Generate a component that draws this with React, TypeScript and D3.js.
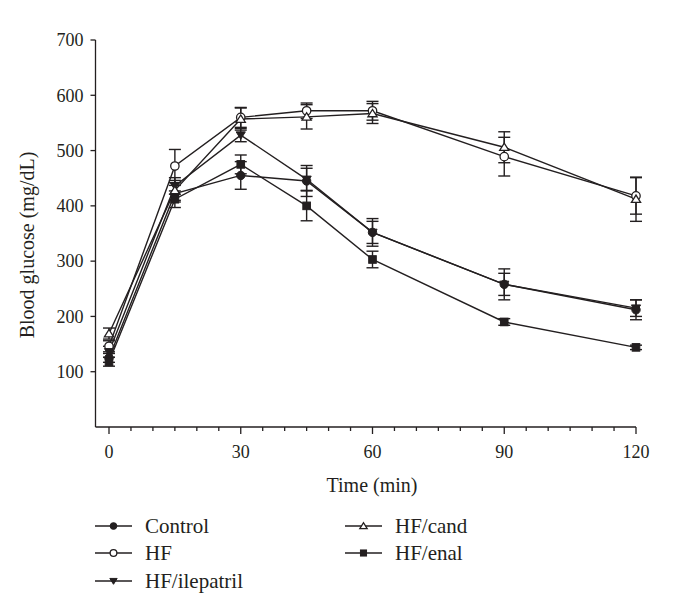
import React from "react";
import * as d3 from "d3";

const times = [0, 15, 30, 45, 60, 90, 120];
const seriesNames = ["Control", "HF", "HF/ilepatril", "HF/cand", "HF/enal"];
const controlVals = [125, 422, 455, 445, 352, 258, 212];
const controlErr = [8, 15, 25, 28, 25, 28, 18];
const hfVals = [146, 472, 560, 572, 572, 489, 418];
const hfErr = [10, 30, 18, 14, 17, 35, 33];
const ilepatrilVals = [136, 436, 528, 448, 352, 258, 215];
const ilepatrilErr = [10, 15, 12, 20, 20, 20, 15];
const candVals = [169, 428, 557, 561, 567, 506, 412];
const candErr = [10, 18, 20, 22, 18, 28, 40];
const enalVals = [118, 412, 475, 400, 303, 190, 144];
const enalErr = [8, 15, 17, 27, 15, 6, 4];
const yTicks = [100, 200, 300, 400, 500, 600, 700];
const xMajorTicks = [0, 30, 60, 90, 120];
const xMinorTicks = d3.range(0, 121, 5);

type Marker = "filledCircle" | "openCircle" | "filledDown" | "openUp" | "filledSquare";
const markers: Marker[] = ["filledCircle", "openCircle", "filledDown", "openUp", "filledSquare"];
const allVals = [controlVals, hfVals, ilepatrilVals, candVals, enalVals];
const allErr = [controlErr, hfErr, ilepatrilErr, candErr, enalErr];

const INK = "#231f20";
const FONT = "'Liberation Serif', 'Times New Roman', serif";

function MarkerShape({ type, x, y, s = 1 }: { type: Marker; x: number; y: number; s?: number }) {
  switch (type) {
    case "filledCircle":
      return <circle cx={x} cy={y} r={4.2 * s} fill={INK} stroke={INK} strokeWidth={1} />;
    case "openCircle":
      return <circle cx={x} cy={y} r={4.2 * s} fill="#fff" stroke={INK} strokeWidth={1.3} />;
    case "filledDown": {
      const h = 4.6 * s;
      return (
        <path
          d={`M${x - h},${y - h * 0.7} L${x + h},${y - h * 0.7} L${x},${y + h * 0.9} Z`}
          fill={INK}
          stroke={INK}
          strokeWidth={1}
        />
      );
    }
    case "openUp": {
      const h = 4.6 * s;
      return (
        <path
          d={`M${x - h},${y + h * 0.7} L${x + h},${y + h * 0.7} L${x},${y - h * 0.9} Z`}
          fill="#fff"
          stroke={INK}
          strokeWidth={1.3}
        />
      );
    }
    case "filledSquare": {
      const h = 3.8 * s;
      return <rect x={x - h} y={y - h} width={2 * h} height={2 * h} fill={INK} stroke={INK} strokeWidth={1} />;
    }
  }
}

export default function App() {
  const W = 694;
  const H = 605;
  const x = d3.scaleLinear().domain([0, 120]).range([109, 636]);
  const y = d3.scaleLinear().domain([0, 700]).range([427, 40]);
  const axisX = 95.5;
  const line = d3
    .line<number>()
    .x((_, i) => x(times[i]))
    .y((v) => y(v));

  const legendItems = [
    { col: 0, row: 0 },
    { col: 0, row: 1 },
    { col: 0, row: 2 },
    { col: 1, row: 0 },
    { col: 1, row: 1 },
  ];
  const legendColX = [95, 345];
  const legendRowY = [526, 553, 581];

  return (
    <svg width={W} height={H} style={{ display: "block", position: "absolute", left: 0, top: 0, background: "#fff" }}>
      <rect width={W} height={H} fill="#fff" />
      {/* axes */}
      <g stroke={INK} strokeWidth={1.3} fill="none">
        <line x1={axisX} y1={y(700)} x2={axisX} y2={y(0)} />
        <line x1={axisX} y1={y(0)} x2={x(120)} y2={y(0)} />
        {yTicks.map((t) => (
          <line key={t} x1={axisX - 5} x2={axisX} y1={y(t)} y2={y(t)} />
        ))}
        {xMinorTicks.map((t) => (
          <line key={t} x1={x(t)} x2={x(t)} y1={y(0)} y2={y(0) + (t % 30 === 0 ? 7 : 4)} />
        ))}
      </g>
      <g fontFamily={FONT} fontSize={18} fill={INK}>
        {yTicks.map((t) => (
          <text key={t} x={axisX - 12} y={y(t)} dy="0.35em" textAnchor="end">
            {t}
          </text>
        ))}
        {xMajorTicks.map((t) => (
          <text key={t} x={x(t)} y={452} dy="0.35em" textAnchor="middle">
            {t}
          </text>
        ))}
      </g>
      <text x={372} y={485} dy="0.35em" textAnchor="middle" fontFamily={FONT} fontSize={20} fill={INK}>
        Time (min)
      </text>
      <text
        transform={`translate(27,245) rotate(-90)`}
        dy="0.35em"
        textAnchor="middle"
        fontFamily={FONT}
        fontSize={20}
        fill={INK}
      >
        Blood glucose (mg/dL)
      </text>

      {/* series lines */}
      {allVals.map((vals, si) => (
        <path key={"l" + si} d={line(vals) || ""} fill="none" stroke={INK} strokeWidth={1.4} />
      ))}
      {/* error bars */}
      {allVals.map((vals, si) => (
        <g key={"e" + si} stroke={INK} strokeWidth={1.4}>
          {vals.map((v, i) => {
            const cx = x(times[i]);
            const e = allErr[si][i];
            return (
              <g key={i}>
                <line x1={cx} x2={cx} y1={y(v - e)} y2={y(v + e)} />
                <line x1={cx - 6} x2={cx + 6} y1={y(v + e)} y2={y(v + e)} />
                <line x1={cx - 6} x2={cx + 6} y1={y(v - e)} y2={y(v - e)} />
              </g>
            );
          })}
        </g>
      ))}
      {/* markers */}
      {allVals.map((vals, si) => (
        <g key={"m" + si}>
          {vals.map((v, i) => (
            <MarkerShape key={i} type={markers[si]} x={x(times[i])} y={y(v)} />
          ))}
        </g>
      ))}

      {/* legend */}
      {legendItems.map((it, i) => {
        const lx = legendColX[it.col];
        const ly = legendRowY[it.row];
        return (
          <g key={"lg" + i}>
            <line x1={lx} x2={lx + 37} y1={ly} y2={ly} stroke={INK} strokeWidth={1.4} />
            <MarkerShape type={markers[i]} x={lx + 18.5} y={ly} s={0.8} />
            <text x={lx + 50} y={ly} dy="0.35em" fontFamily={FONT} fontSize={21} fill={INK}>
              {seriesNames[i]}
            </text>
          </g>
        );
      })}
    </svg>
  );
}
